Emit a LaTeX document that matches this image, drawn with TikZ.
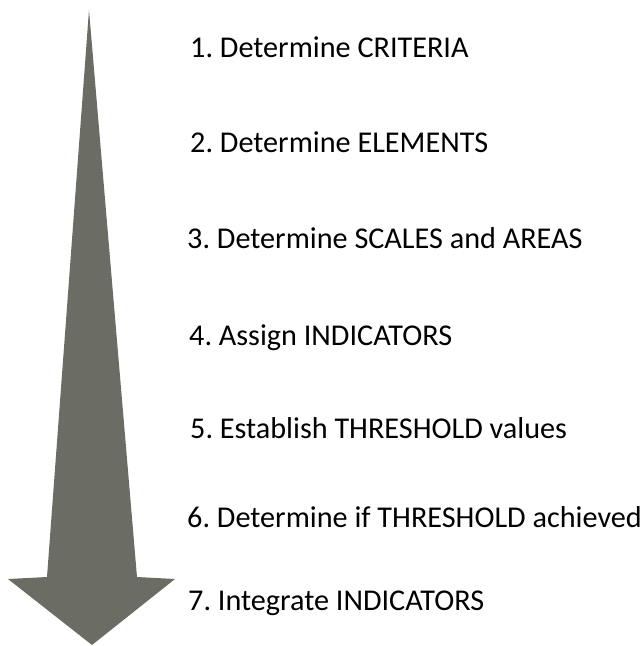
\documentclass[tikz,border=0pt]{standalone}
\usepackage{fontspec}
\setmainfont{Carlito}
\usepackage{tikz}
\usetikzlibrary{positioning}
\definecolor{arrowgray}{RGB}{107,108,100}
\frenchspacing

\begin{document}
\begin{tikzpicture}[x=1pt, y=-1pt,
    item/.style={anchor=base west, inner sep=0pt, font=\fontsize{30.2}{35}\selectfont},
    bigarrow/.style={fill=arrowgray, draw=none}]

  \useasboundingbox (0,0) rectangle (642,646);

  % tapering arrow
  \fill[bigarrow] (89,10) -- (137,577) -- (175,579) -- (92,645)
    -- (8,579) -- (47,577) -- cycle;

  \node[item] (crit) at (190,57) {1. Determine CRITERIA};
  \node[item] (elem) at (190,152) {2. Determine ELEMENTS};
  \node[item] (scal) at (187,248) {3. Determine SCALES and AREAS};
  \node[item] (indi) at (189,345) {4. Assign INDICATORS};
  \node[item] (thre) at (190,438) {5. Establish THRESHOLD values};
  \node[item] (achv) at (187,527) {6. Determine if THRESHOLD achieved};
  \node[item] (integ) at (188,610) {7. Integrate INDICATORS};
\end{tikzpicture}
\end{document}
